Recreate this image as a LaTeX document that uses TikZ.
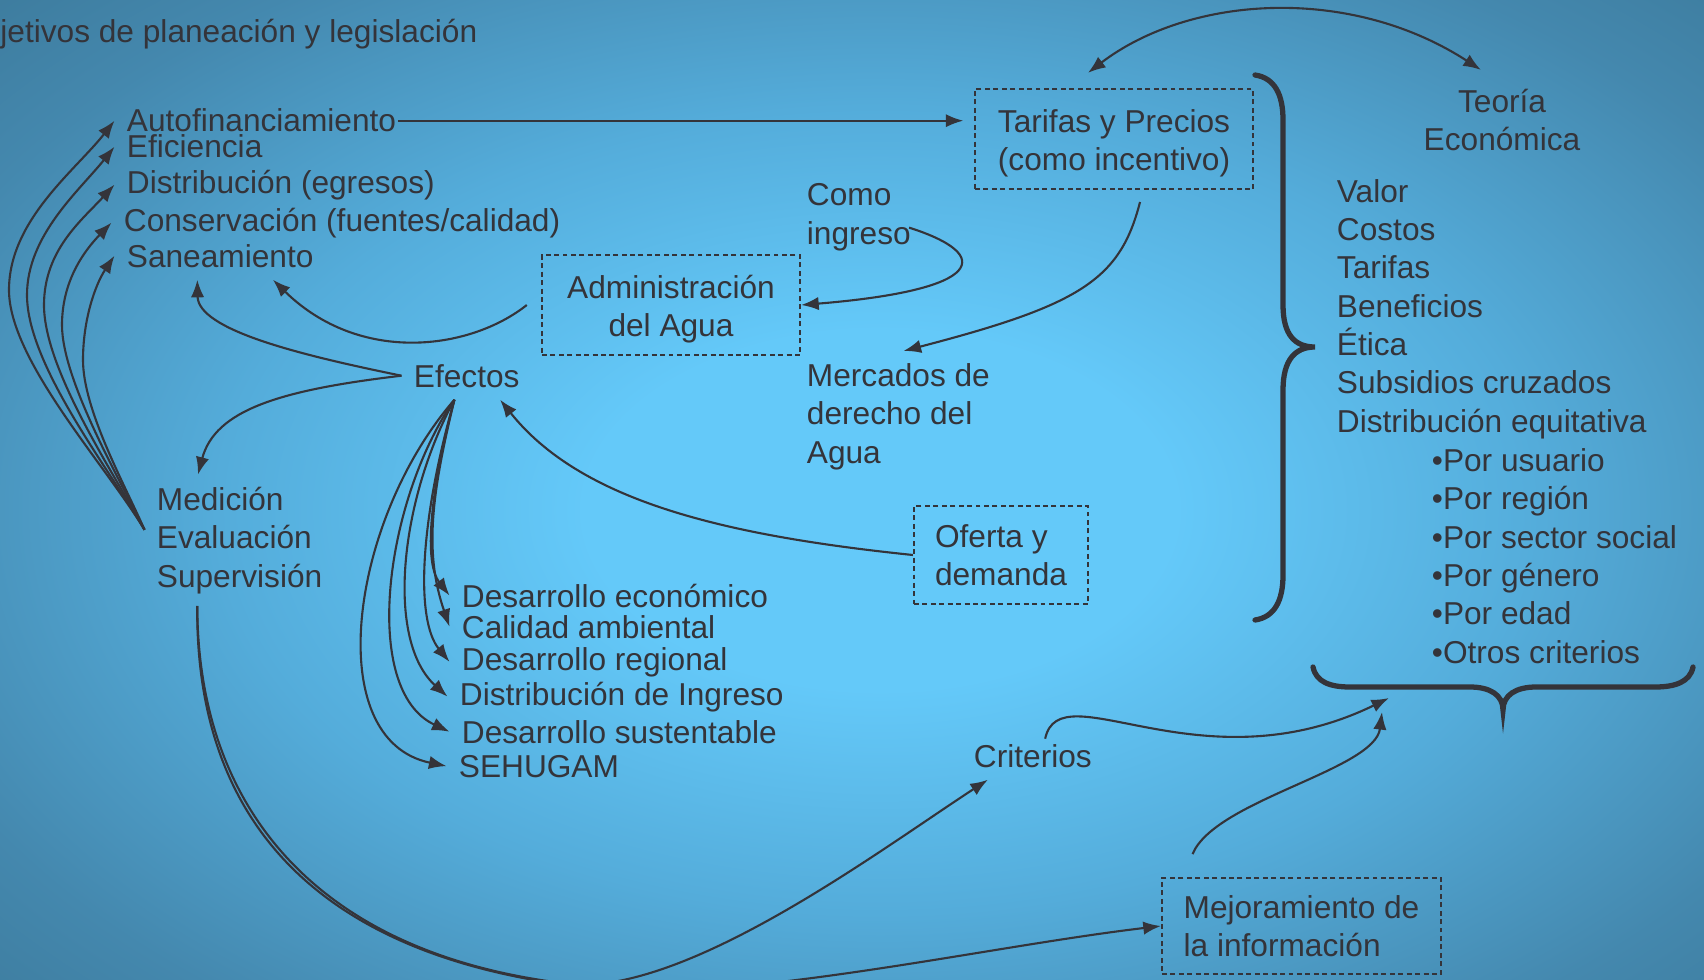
\documentclass[tikz,border=0pt]{standalone}
\usepackage{fontspec}
\setmainfont{Liberation Sans}
\usetikzlibrary{arrows.meta}

\definecolor{ink}{HTML}{34343A}
\definecolor{bgin}{HTML}{64C9F9}
\definecolor{bgmid}{HTML}{54ACDA}
\definecolor{bgdark}{HTML}{4488AE}
\definecolor{bgout}{HTML}{3A7696}
\definecolor{bgcorner}{HTML}{36708E}
\pgfdeclareradialshading{bgshade}{\pgfpoint{0bp}{0bp}}{color(0bp)=(bgin); color(8bp)=(bgin); color(18bp)=(bgmid); color(28bp)=(bgdark); color(36bp)=(bgout); color(72bp)=(bgcorner)}

\begin{document}
\begin{tikzpicture}[x=0.01cm,y=-0.01cm,>={Latex[length=5pt,width=3.8pt]},
  txt/.style={text=ink,font=\fontsize{9pt}{10.9pt}\selectfont},
  box/.style={txt,draw=ink,dash pattern=on 1.4pt off 1pt,line width=0.6pt,minimum height=0.98cm},
  arr/.style={->,draw=ink,line width=0.6pt},
  brace/.style={draw=ink,line width=1.5pt,line cap=round}]
  \useasboundingbox (0,0) rectangle (1704,979);
  \clip (0,0) rectangle (1704,979);
  \shade[shading=bgshade] (-40,-50) rectangle (1800,1070);

  % left column
  \node[txt,anchor=base west] (tit) at (-12,43) {jetivos de planeación y legislación};
  \node[txt,anchor=base west] (auto) at (114.5,132) {Autofinanciamiento};
  \node[txt,anchor=base west] (efi) at (114.5,158) {Eficiencia};
  \node[txt,anchor=base west] (dis) at (114.5,193) {Distribución (egresos)};
  \node[txt,anchor=base west] (con) at (111.5,231) {Conservación (fuentes/calidad)};
  \node[txt,anchor=base west] (san) at (114.5,267) {Saneamiento};
  \node[txt,anchor=base west,align=left] (mes) at (144.5,587) {Medición\\Evaluación\\Supervisión};

  % middle
  \node[txt,anchor=base west] (efe) at (401.5,387) {Efectos};
  \node[box,minimum width=2.58cm,align=center] (adm) at (671,305) {\rule{0pt}{9pt}Administración\\del Agua};
  \node[txt,anchor=base west,align=left] (como) at (794.5,244) {Como\\ingreso};
  \node[txt,anchor=base west,align=left] (mer) at (794.5,463) {Mercados de\\derecho del\\Agua};
  \node[box,minimum width=2.78cm,align=center] (tar) at (1114,139) {\rule{0pt}{9pt}Tarifas y Precios\\(como incentivo)};
  \node[box,minimum width=1.74cm,align=left] (ofe) at (1001,555) {Oferta y\\demanda};
  \node[txt,anchor=base west] (eco) at (449.5,607) {Desarrollo económico};
  \node[txt,anchor=base west] (cal) at (449.5,638) {Calidad ambiental};
  \node[txt,anchor=base west] (reg) at (449.5,670) {Desarrollo regional};
  \node[txt,anchor=base west] (dsi) at (447.5,705) {Distribución de Ingreso};
  \node[txt,anchor=base west] (sus) at (449.5,743) {Desarrollo sustentable};
  \node[txt,anchor=base west] (seh) at (446.5,777) {SEHUGAM};
  \node[txt,anchor=base west] (cri) at (961.5,767) {Criterios};
  \node[box,minimum width=2.79cm,minimum height=0.96cm,align=left] (mej) at (1301.5,926) {Mejoramiento de\\la información};

  % right column
  \node[txt,anchor=base,align=center] (teo) at (1502,151) {Teoría\\Económica};
  \node[txt,anchor=base west,align=left] (val) at (1324.5,432)
    {Valor\\Costos\\Tarifas\\Beneficios\\Ética\\Subsidios cruzados\\Distribución equitativa};
  \node[txt,anchor=base west,align=left] (por) at (1419.5,663)
    {•Por usuario\\•Por región\\•Por sector social\\•Por género\\•Por edad\\•Otros criterios};
  \coordinate (cb) at (1389,698);
  \coordinate (mb) at (1382,712);

  % braces
  \draw[brace] (1255,75) .. controls (1275,78) and (1283,95) .. (1283,120) -- (1283,305)
    .. controls (1283,335) and (1295,347) .. (1315,347)
    .. controls (1295,347) and (1283,360) .. (1283,390) -- (1283,575)
    .. controls (1283,600) and (1275,617) .. (1255,620);
  \draw[brace] (1313,667) .. controls (1316,682) and (1330,687) .. (1350,687) -- (1470,687)
    .. controls (1490,687) and (1503,695) .. (1503,710)
    .. controls (1503,695) and (1516,687) .. (1536,687) -- (1655,687)
    .. controls (1675,687) and (1690,682) .. (1693,667);

  % connectors
  \draw[arr,shorten >=3pt] ([xshift=-3pt]auto.east) -- (auto.east -| tar.west);
  \draw[arr,<->] ([xshift=-7.4pt,yshift=4.3pt]tar.north) .. controls (1190,-5) and (1350,-15) .. ([xshift=-6pt,yshift=2pt]teo.north);
  \draw[arr] ([xshift=7.4pt,yshift=-3.4pt]tar.south) .. controls (1120,280) and (1080,305) .. ([xshift=31pt]mer.north west);
  \draw[arr] ([xshift=-4pt,yshift=-3pt]como.east) .. controls (995,255) and (985,290) .. (adm.east);
  \draw[arr] ([xshift=-4pt]adm.west) .. controls (470,350) and (360,365) .. ([xshift=15pt]san.south);
  \draw[arr] (efe.west) .. controls (300,355) and (198,330) .. ([xshift=-6.5pt]san.south);
  \draw[arr] (efe.west) .. controls (280,390) and (215,410) .. ([xshift=15.2pt]mes.north west);
  \draw[arr] (ofe.west) .. controls (720,535) and (580,500) .. ([xshift=9.5pt]efe.south);

  \coordinate (ef) at ([xshift=-3.5pt]efe.south);
  \draw[arr] (ef) .. controls (433,480) and (422,560) .. (eco.west);
  \draw[arr] (ef) .. controls (430,500) and (425,555) .. (cal.west);
  \draw[arr] (ef) .. controls (420,520) and (415,620) .. (reg.west);
  \draw[arr] (ef) .. controls (400,500) and (385,640) .. (dsi.west);
  \draw[arr] (ef) .. controls (385,500) and (360,690) .. (sus.west);
  \draw[arr] (ef) .. controls (350,520) and (320,740) .. (seh.west);

  \coordinate (mw) at ([yshift=3pt]mes.west);
  \draw[arr] (mw) .. controls (105,464) and (9,360) .. (9,290) .. controls (9,220) and (76,170) .. (auto.west);
  \draw[arr] (mw) .. controls (110,470) and (27,365) .. (27,295) .. controls (27,235) and (80,190) .. (efi.west);
  \draw[arr] (mw) .. controls (115,475) and (44,370) .. (44,305) .. controls (44,250) and (82,220) .. (dis.west);
  \draw[arr] (mw) .. controls (120,480) and (62,380) .. (62,325) .. controls (62,280) and (85,250) .. (con.west);
  \draw[arr] (mw) .. controls (125,485) and (83,410) .. (83,360) .. controls (83,320) and (95,285) .. (san.west);

  \coordinate (sp) at ([xshift=15pt]mes.south west);
  \draw[arr] (sp) .. controls (198,820) and (330,960) .. (580,985) .. controls (700,985) and (880,850) .. ([xshift=7.5pt]cri.south west);
  \draw[arr] (sp) .. controls (195,840) and (340,975) .. (640,992) .. controls (800,990) and (1000,945) .. (mej.west);
  \draw[arr] ([xshift=3.5pt,yshift=-2pt]cri.north) .. controls (1060,670) and (1200,790) .. (cb);
  \draw[arr] ([xshift=9pt,yshift=6.5pt]mej.north west) .. controls (1215,800) and (1375,770) .. (mb);
\end{tikzpicture}
\end{document}
